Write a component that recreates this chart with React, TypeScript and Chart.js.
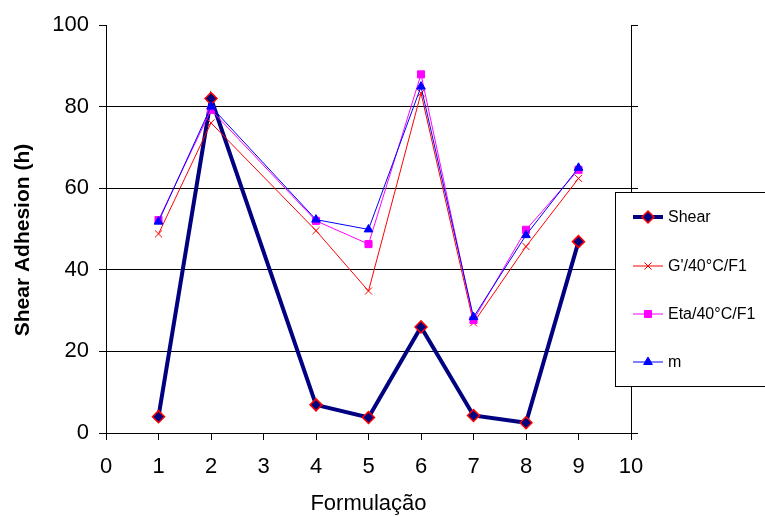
import React, { useEffect, useRef } from "react";
import { Chart, registerables } from "chart.js";

Chart.register(...registerables);

const formulacoes = [1, 2, 4, 5, 6, 7, 8, 9];
const shear = [4.0, 82.0, 6.9, 3.8, 26.0, 4.3, 2.5, 46.9];
const gLinha = [48.8, 76.0, 49.6, 34.8, 83.3, 27.0, 45.7, 62.4];
const eta = [52.2, 79.2, 52.0, 46.3, 87.9, 27.7, 49.8, 64.5];
const mVals = [51.8, 80.0, 52.3, 49.9, 84.9, 28.4, 48.5, 65.0];
const seriesNames = ["Shear", "G'/40°C/F1", "Eta/40°C/F1", "m"];
const xTitle = "Formulação";
const yTitle = "Shear Adhesion (h)";

const FONT_FAMILY = "Arial, 'Liberation Sans', sans-serif";

function toPoints(vals: number[]) {
  return formulacoes.map((x, i) => ({ x, y: vals[i] }));
}

function drawMarker(ctx: CanvasRenderingContext2D, style: string, x: number, y: number, r: number, fill: string, stroke: string, lw: number) {
  ctx.save();
  ctx.beginPath();
  if (style === "rectRot") {
    ctx.moveTo(x, y - r);
    ctx.lineTo(x + r, y);
    ctx.lineTo(x, y + r);
    ctx.lineTo(x - r, y);
    ctx.closePath();
  } else if (style === "rect") {
    const s = r * Math.SQRT1_2;
    ctx.rect(x - s, y - s, 2 * s, 2 * s);
  } else if (style === "triangle") {
    ctx.moveTo(x, y - r);
    ctx.lineTo(x + r * 0.866, y + r * 0.5);
    ctx.lineTo(x - r * 0.866, y + r * 0.5);
    ctx.closePath();
  } else if (style === "crossRot") {
    const s = r * Math.SQRT1_2;
    ctx.moveTo(x - s, y - s);
    ctx.lineTo(x + s, y + s);
    ctx.moveTo(x + s, y - s);
    ctx.lineTo(x - s, y + s);
  }
  if (style !== "crossRot") {
    ctx.fillStyle = fill;
    ctx.fill();
  }
  ctx.strokeStyle = stroke;
  ctx.lineWidth = lw;
  ctx.stroke();
  ctx.restore();
}

const legendPlugin = {
  id: "customLegend",
  afterDraw(chart: any) {
    const ctx: CanvasRenderingContext2D = chart.ctx;
    ctx.save();
    // y axis title
    const yScale = chart.scales.y;
    ctx.translate(23, (yScale.top + yScale.bottom) / 2 + 11);
    ctx.rotate(-Math.PI / 2);
    ctx.fillStyle = "#000";
    ctx.font = "bold 21px " + FONT_FAMILY;
    ctx.textAlign = "center";
    ctx.textBaseline = "middle";
    ctx.fillText(yTitle, 0, 0);
    ctx.restore();

    ctx.save();
    ctx.fillStyle = "#fff";
    ctx.fillRect(615.5, 192.5, 160, 194);
    ctx.strokeStyle = "#000";
    ctx.lineWidth = 1;
    ctx.strokeRect(615.5, 192.5, 160, 194);
    const ys = [217, 266, 314, 362];
    chart.data.datasets.forEach((ds: any, i: number) => {
      const y = ys[i];
      ctx.beginPath();
      ctx.moveTo(633, y);
      ctx.lineTo(663, y);
      ctx.strokeStyle = ds.borderColor;
      ctx.lineWidth = ds.borderWidth;
      ctx.stroke();
      drawMarker(ctx, ds.pointStyle, 648, y, ds.pointRadius, ds.pointBackgroundColor, ds.pointBorderColor, ds.pointBorderWidth);
      ctx.fillStyle = "#000";
      ctx.font = "16px " + FONT_FAMILY;
      ctx.textBaseline = "middle";
      ctx.textAlign = "left";
      ctx.fillText(seriesNames[i], 668, y + 1);
    });
    ctx.restore();
  },
};

export default function App() {
  const ref = useRef<HTMLCanvasElement | null>(null);
  useEffect(() => {
    if (!ref.current) return;
    const font = { family: FONT_FAMILY, size: 22 };
    const chart = new Chart(ref.current, {
      type: "line",
      data: {
        datasets: [
          {
            label: seriesNames[0],
            data: toPoints(shear),
            borderColor: "#000080",
            borderWidth: 4,
            pointStyle: "rectRot",
            pointRadius: 6,
            pointBackgroundColor: "#000080",
            pointBorderColor: "#ff0000",
            pointBorderWidth: 1.5,
            tension: 0,
            order: 4,
          },
          {
            label: seriesNames[1],
            data: toPoints(gLinha),
            borderColor: "#ff0000",
            borderWidth: 1,
            pointStyle: "crossRot",
            pointRadius: 5,
            pointBackgroundColor: "#ff0000",
            pointBorderColor: "#ff0000",
            pointBorderWidth: 1,
            tension: 0,
            order: 3,
          },
          {
            label: seriesNames[2],
            data: toPoints(eta),
            borderColor: "#ff00ff",
            borderWidth: 1,
            pointStyle: "rect",
            pointRadius: 5,
            pointBackgroundColor: "#ff00ff",
            pointBorderColor: "#ff00ff",
            pointBorderWidth: 1,
            tension: 0,
            order: 2,
          },
          {
            label: seriesNames[3],
            data: toPoints(mVals),
            borderColor: "#0000ff",
            borderWidth: 1,
            pointStyle: "triangle",
            pointRadius: 5,
            pointBackgroundColor: "#0000ff",
            pointBorderColor: "#0000ff",
            pointBorderWidth: 1,
            tension: 0,
            order: 1,
          },
        ] as any,
      },
      options: {
        responsive: false,
        animation: false,
        layout: { padding: { top: 25, left: 0, right: 0, bottom: 0 } },
        plugins: { legend: { display: false }, tooltip: { enabled: false } },
        scales: {
          x: {
            type: "linear",
            position: "bottom",
            min: 0,
            max: 10,
            ticks: { stepSize: 1, font, color: "#000", padding: 14, maxRotation: 0 },
            grid: { drawOnChartArea: false, tickLength: 7, tickColor: "#000" },
            border: { color: "#000", width: 1 },
            title: { display: true, text: xTitle, font, color: "#000", padding: { top: 0, bottom: 0 } },
            afterFit: (s: any) => { s.height = 84; },
          },
          y: {
            position: "left",
            min: 0,
            max: 100,
            ticks: { stepSize: 20, font, color: "#000", padding: 10 },
            grid: {
              color: (c: any) => (c.tick && c.tick.value === 100 ? "rgba(0,0,0,0)" : "#000"),
              tickColor: "#000",
              tickLength: 7,
            },
            border: { color: "#000", width: 1 },
            afterFit: (s: any) => { s.width = 106; },
          },
          y2: {
            position: "right",
            min: 0,
            max: 100,
            ticks: { stepSize: 20, display: false },
            grid: { drawOnChartArea: false, tickLength: 7, tickColor: "#000" },
            border: { color: "#000", width: 1 },
            afterFit: (s: any) => { s.width = 134; },
          },
        },
      } as any,
      plugins: [legendPlugin],
    });
    return () => chart.destroy();
  }, []);
  return (
    <div style={{ position: "absolute", left: 0, top: 0, width: 765, height: 517, background: "#fff" }}>
      <canvas ref={ref} width={765} height={517} style={{ display: "block" }} />
    </div>
  );
}
